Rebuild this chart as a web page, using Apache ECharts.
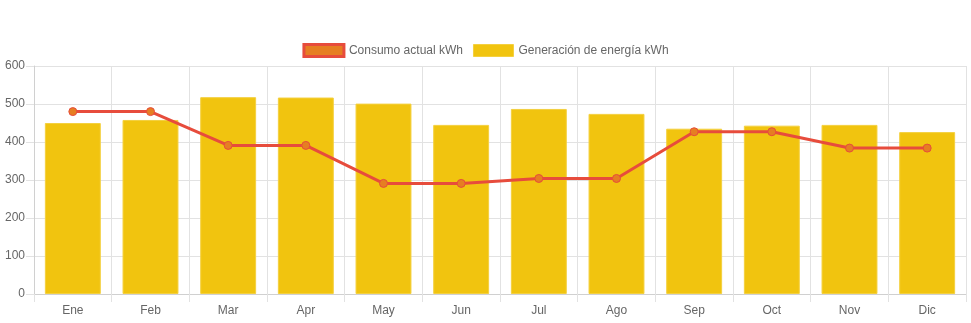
<!DOCTYPE html>
<html><head><meta charset="utf-8">
<script src="https://cdn.jsdelivr.net/npm/echarts@6/dist/echarts.min.js"></script>
<style>html,body{margin:0;padding:0;background:#fff}#c{width:971px;height:323px}</style>
</head><body><div id="c"></div>
<script>
const months = ['Ene','Feb','Mar','Apr','May','Jun','Jul','Ago','Sep','Oct','Nov','Dic'];
const consumo = [480, 480, 391, 391, 291, 291, 304, 304, 427, 427, 384, 384];
const generacion = [450, 458, 518, 517, 501, 445, 487, 474, 435, 443, 445, 426];
const yTicks = [0, 100, 200, 300, 400, 500, 600];
const consumoName = 'Consumo actual kWh';
const generacionName = 'Generación de energía kWh';

const chart = echarts.init(document.getElementById('c'), null, {renderer: 'canvas'});
const font = 'Helvetica, Arial, "Liberation Sans", sans-serif';
chart.setOption({
  animation: false,
  textStyle: {fontFamily: font},
  legend: {
    top: 38, left: 'center', itemWidth: 40, itemHeight: 12, itemGap: 10,
    textStyle: {color: '#666', fontSize: 12, fontFamily: font},
    data: [
      {name: consumoName, icon: 'rect', itemStyle: {color: '#E67E22', borderColor: '#E74C3C', borderWidth: 3}},
      {name: generacionName, icon: 'rect', itemStyle: {color: '#F1C40F', borderColor: '#F4D03F', borderWidth: 1}}
    ]
  },
  grid: {left: 34, right: 5, top: 66, bottom: 29, containLabel: false},
  xAxis: {
    type: 'category', data: months, boundaryGap: true,
    axisLine: {show: true, lineStyle: {color: '#d0d0d0', width: 1}},
    axisTick: {show: true, length: 8, lineStyle: {color: '#e2e2e2'}},
    splitLine: {show: true, lineStyle: {color: '#e2e2e2'}},
    axisLabel: {color: '#666', fontSize: 12, margin: 11, fontFamily: font}
  },
  yAxis: {
    type: 'value', min: yTicks[0], max: yTicks[yTicks.length - 1], interval: 100,
    axisLine: {show: true, lineStyle: {color: '#d0d0d0', width: 1}},
    axisTick: {show: true, length: 8, lineStyle: {color: '#e2e2e2'}},
    splitLine: {show: true, lineStyle: {color: '#e2e2e2'}},
    axisLabel: {color: '#666', fontSize: 12, margin: 9, fontFamily: font}
  },
  series: [
    {
      name: generacionName, type: 'bar', data: generacion, barWidth: '72%',
      itemStyle: {color: '#F1C40F', borderColor: '#F4D03F', borderWidth: 1}, z: 2
    },
    {
      name: consumoName, type: 'line', data: consumo, z: 5,
      symbol: 'circle', symbolSize: 8,
      lineStyle: {color: '#E74C3C', width: 3},
      itemStyle: {color: '#E67E22', borderColor: '#E74C3C', borderWidth: 1}
    }
  ]
});
</script></body></html>
